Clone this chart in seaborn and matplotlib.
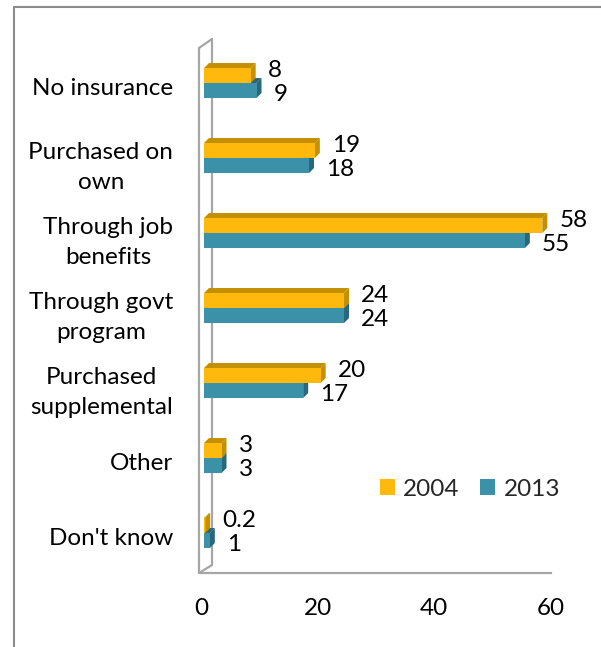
import matplotlib
matplotlib.use("Agg")
import pandas as pd
import matplotlib.pyplot as plt
import seaborn as sns
from matplotlib.patches import Polygon, Patch
from matplotlib.lines import Line2D
from matplotlib.transforms import Affine2D, IdentityTransform

# ---- data ----
categories = ["No insurance", "Purchased on\nown", "Through job\nbenefits",
              "Through govt\nprogram", "Purchased\nsupplemental", "Other",
              "Don't know"]
years = ["2004", "2013"]
values_2004 = [8, 19, 58, 24, 20, 3, 0.2]
values_2013 = [9, 18, 55, 24, 17, 3, 1]
x_ticks = [0, 20, 40, 60]

front_colors = {"2004": "#FFB80C", "2013": "#3A91A8"}
shade_colors = {"2004": "#C48F00", "2013": "#29687A"}

df = pd.DataFrame({
    "category": categories * 2,
    "year": [years[0]] * len(categories) + [years[1]] * len(categories),
    "value": values_2004 + values_2013,
})

# ---- figure ----
W, H, DPI = 601, 647, 100
FS = 17.5
GREY = "#A6A6A6"
DEPTH = 5      # pixel depth of the pseudo-3D faces
SHIFT = 3      # bars sit slightly right of the floor edge

sns.set_theme(style="white")
plt.rcParams["font.family"] = ["Lato", "DejaVu Sans"]

fig = plt.figure(figsize=(W / DPI, H / DPI), dpi=DPI)
ax = fig.add_axes([201 / W, 1 - 573 / H, 350 / W, (573 - 45) / H])
ax.patch.set_visible(False)

sns.barplot(data=df, y="category", x="value", hue="year", order=categories,
            hue_order=years, palette=front_colors, orient="h", width=0.4,
            dodge=True, gap=0, saturation=1, legend=False, ax=ax)

ax.set_xlim(0, 60)
ax.set_ylim(6.533, -0.507)
ax.set_xticks(x_ticks)
ax.set_xlabel("")
ax.set_ylabel("")
for side in ["left", "top", "right"]:
    ax.spines[side].set_visible(False)
ax.spines["bottom"].set_color(GREY)
ax.spines["bottom"].set_linewidth(1.6)
ax.tick_params(axis="x", length=5, width=1.5, color=GREY, direction="out",
               pad=13, labelsize=FS, labelcolor="black")
ax.tick_params(axis="y", length=0, pad=20, labelsize=FS, labelcolor="black")
for lab in ax.get_yticklabels():
    lab.set_multialignment("center")
    lab.set_linespacing(1.55)
    lab.set_transform(lab.get_transform() + Affine2D().translate(0, -3))

# ---- pseudo-3D faces on each bar ----
shifted = ax.transData + Affine2D().translate(SHIFT, 0)
bars = list(ax.patches)
value_lookup = {years[0]: values_2004, years[1]: values_2013}
n = len(categories)
for i, bar in enumerate(bars):
    year = years[i // n]
    cat_idx = i % n
    bar.set_transform(shifted)
    base_z = 3 if year == years[0] else 2
    bar.set_zorder(base_z + 0.5)
    bar.set_edgecolor("none")
    x0, y0 = bar.get_x(), bar.get_y()
    w, h = bar.get_width(), bar.get_height()
    p_tl = shifted.transform((x0, y0))
    p_tr = shifted.transform((x0 + w, y0))
    p_br = shifted.transform((x0 + w, y0 + h))
    d = (DEPTH, DEPTH)
    top = [p_tl, p_tr, p_tr + d, p_tl + d]
    side = [p_tr, p_br, p_br + d, p_tr + d]
    for face in (top, side):
        ax.add_artist(Polygon(face, closed=True, facecolor=shade_colors[year],
                              edgecolor="none", transform=IdentityTransform(),
                              zorder=base_z, clip_on=False))
    # value label
    val = value_lookup[year][cat_idx]
    dy = 3.6 if year == years[0] else -2.9
    ax.annotate(f"{val:g}", xy=(x0 + w, y0 + h / 2), xycoords="data",
                xytext=(14.5, dy), textcoords="offset points", ha="left",
                va="center", fontsize=FS, color="black", zorder=5)

# ---- side wall and floor edge ----
ox, oy = ax.transAxes.transform((0, 0))
_, ty = ax.transAxes.transform((0, 1))
fx = ox - 2          # front edge of the wall
bx = ox + 11         # back edge of the wall
wall = [
    ([fx, fx], [oy, ty - 3]),
    ([bx, bx], [oy + 8, ty + 6]),
    ([fx, bx], [ty - 3, ty + 6]),
    ([fx, bx], [oy, oy + 8]),
]
for xs, ys in wall:
    fig.add_artist(Line2D(xs, ys, color=GREY, lw=1.6,
                          transform=IdentityTransform(), zorder=-1))

# ---- legend ----
handles = [Patch(facecolor=front_colors[y], edgecolor="none") for y in years]
fig.legend(handles, years, loc="center", bbox_to_anchor=(470 / W, 1 - 489 / H),
           ncol=2, frameon=False, fontsize=FS, handlelength=0.62,
           handleheight=0.62, handletextpad=0.35, columnspacing=0.85,
           borderpad=0, borderaxespad=0)

# ---- outer frame ----
frame_color = "#8C8C8C"
fig.add_artist(Line2D([14 / W, 1], [1 - 7 / H, 1 - 7 / H],
                      transform=fig.transFigure, color=frame_color, lw=1.5))
fig.add_artist(Line2D([14 / W, 14 / W], [0, 1 - 7 / H],
                      transform=fig.transFigure, color=frame_color, lw=1.5))

fig.savefig("out.png", dpi=DPI)
